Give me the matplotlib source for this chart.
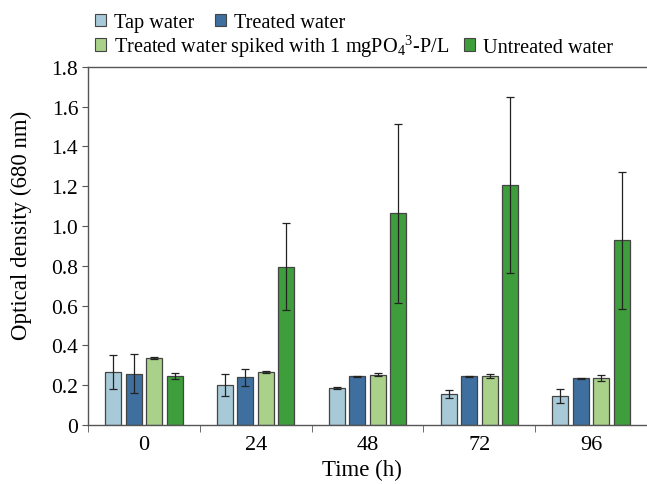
import matplotlib
matplotlib.use("Agg")
import matplotlib.pyplot as plt
import numpy as np
from matplotlib.patches import Patch

plt.rcParams['font.family'] = ['Liberation Serif', 'DejaVu Serif']
plt.rcParams['mathtext.fontset'] = 'custom'
plt.rcParams['mathtext.rm'] = 'Liberation Serif'
plt.rcParams['mathtext.it'] = 'Liberation Serif'

times = ["0", "24", "48", "72", "96"]
series_names = ["Tap water", "Treated water",
                r"Treated water spiked with 1 mgPO$_{\mathregular{4}}$$^{\mathregular{3}}$-P/L",
                "Untreated water"]
tap = [0.265, 0.200, 0.185, 0.157, 0.145]
tap_err = [0.085, 0.055, 0.003, 0.020, 0.033]
treated = [0.258, 0.240, 0.245, 0.245, 0.233]
treated_err = [0.100, 0.043, 0.002, 0.002, 0.002]
spiked = [0.337, 0.268, 0.253, 0.247, 0.235]
spiked_err = [0.005, 0.005, 0.008, 0.010, 0.015]
untreated = [0.247, 0.795, 1.065, 1.208, 0.928]
untreated_err = [0.016, 0.220, 0.450, 0.443, 0.345]
yticks = [0, 0.2, 0.4, 0.6, 0.8, 1.0, 1.2, 1.4, 1.6, 1.8]
ytick_labels = ["0", "0.2", "0.4", "0.6", "0.8", "1.0", "1.2", "1.4", "1.6", "1.8"]

colors = ["#a8c9d8", "#3e6f9f", "#a9d18a", "#3f9e3c"]
values = [tap, treated, spiked, untreated]
errors = [tap_err, treated_err, spiked_err, untreated_err]

fig = plt.figure(figsize=(6.47, 4.85), dpi=100)
ax = fig.add_axes([0.136, 0.122, 0.864, 0.738])

x = np.arange(len(times))
pitch = 0.183
width = 0.143
for i, (v, e, c) in enumerate(zip(values, errors, colors)):
    ax.bar(x + (i - 1.5) * pitch, v, width, color=c, edgecolor="#444444",
           linewidth=0.9, yerr=e, capsize=3,
           error_kw=dict(ecolor="#222222", elinewidth=0.9, capthick=0.9), zorder=2)

ax.set_xlim(-0.5, len(times) - 0.5)
ax.set_ylim(0, 1.8)
ax.set_yticks(yticks)
ax.set_yticklabels(ytick_labels)
ax.set_xticks(x)
ax.set_xticklabels(times)
ax.set_xticks(np.arange(-0.5, len(times)), minor=True)
ax.tick_params(axis='x', which='major', length=0, labelsize=16, pad=7)
ax.tick_params(axis='x', which='minor', length=5, direction='out', color="#555555")
ax.tick_params(axis='y', length=4, direction='out', color="#555555", labelsize=15.5, pad=3)

for s in ["left", "bottom", "top"]:
    ax.spines[s].set_color("#555555")
    ax.spines[s].set_linewidth(1.0)
ax.spines["right"].set_visible(False)

ax.set_ylabel("Optical density (680 nm)", fontsize=16.5)
ax.yaxis.set_label_coords(-0.1, 0.56)
ax.set_xlabel("Time (h)", fontsize=16.5)
ax.xaxis.set_label_coords(0.49, -0.095)

handles = [Patch(facecolor=c, edgecolor="#444444", linewidth=0.8) for c in colors]
leg1 = fig.legend(handles[:2], series_names[:2], ncol=2, loc="upper left",
                  bbox_to_anchor=(0.125, 1.0), frameon=False, fontsize=14.6,
                  handlelength=0.55, handleheight=0.55, handletextpad=0.4,
                  columnspacing=1.0, borderpad=0.2)
leg2 = fig.legend(handles[2:], series_names[2:], ncol=2, loc="upper left",
                  bbox_to_anchor=(0.125, 0.96), frameon=False, fontsize=14.6,
                  handlelength=0.55, handleheight=0.55, handletextpad=0.4,
                  columnspacing=0.7, borderpad=0.2)

fig.savefig("out.png", dpi=100)
